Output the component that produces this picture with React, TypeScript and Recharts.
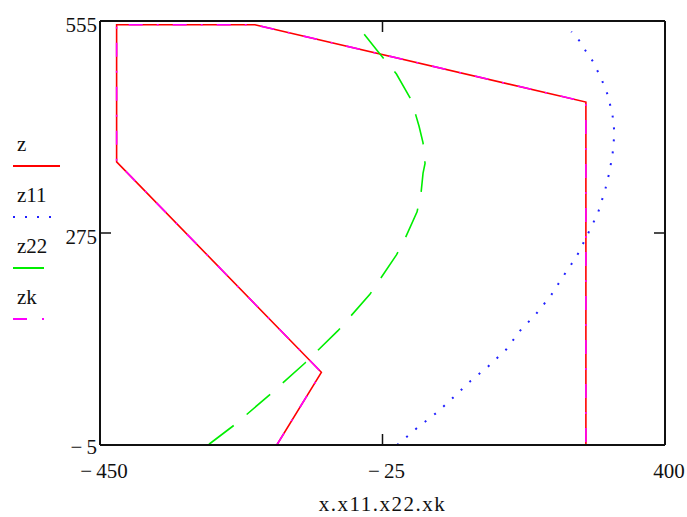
import { Line, LineChart, XAxis, YAxis } from "recharts";

// Mathcad-style X-Y plot: closed section outline plus two curves.
const X_TICKS = [-450, -25, 400];
const Y_TICKS = [-5, 275, 555];
const SERIES_NAMES = ["z", "z11", "z22", "zk"];
const AXIS_TITLE = "x.x11.x22.xk";

// z vs x (outline)
const zX = [-184, -117, -425, -425, -217, 281, 281];
const zY = [-5, 91, 369, 550, 550, 448, -5];

// z11 vs x11
const z11X = [-3, 29, 57, 83, 108, 133, 161, 182, 205, 228, 247, 267, 283, 299, 310, 316, 321, 324, 321, 314, 305, 292, 281, 272, 259];
const z11Y = [-5, 19, 38, 59, 80, 98, 121, 146, 167, 192, 218, 244, 272, 301, 332, 354, 378, 407, 431, 457, 477, 501, 515, 528, 541];

// z22 vs x22
const z22X = [-286, -247, -194, -142, -92, -44, -4, 7, 27, 33, 36, 39, 36, 30, 25, 18, -4, -34, -53];
const z22Y = [-4, 22, 62, 103, 146, 194, 246, 264, 303, 328, 354, 367, 394, 416, 431, 451, 485, 517, 538];

// zk vs xk (same outline as z)
const zkX = [-184, -117, -425, -425, -217, 281, 281];
const zkY = [-5, 91, 369, 550, 550, 448, -5];

const RED = "#ff0000";
const BLUE = "#2020ff";
const GREEN = "#00ee00";
const MAGENTA = "#ff00ff";
const INK = "#111111";
const FONT = '"Liberation Serif", "Times New Roman", serif';

const pairs = (xs: number[], ys: number[]) => xs.map((x, i) => ({ x, y: ys[i] }));

const fmt = (v: number) => (v < 0 ? `\u2212\u2009${-v}` : `${v}`);

function BottomTick({ x, y, payload }: any) {
  return (
    <g>
      <line x1={x} y1={y} x2={x} y2={y - 11} stroke={INK} strokeWidth={1.5} />
      <text x={x + 4} y={y + 33} textAnchor="middle" fontSize={21} fontFamily={FONT} fill={INK}>
        {fmt(payload.value)}
      </text>
    </g>
  );
}

function LeftTick({ x, y, payload }: any) {
  // lowest label sits a little higher so it clears the x tick label below it
  const dy = payload.value === Y_TICKS[0] ? 9 : 11;
  return (
    <g>
      <line x1={x} y1={y} x2={x + 11} y2={y} stroke={INK} strokeWidth={1.5} />
      <text x={x - 3} y={y + dy} textAnchor="end" fontSize={21} fontFamily={FONT} fill={INK}>
        {fmt(payload.value)}
      </text>
    </g>
  );
}

function TopTick({ x, y }: any) {
  return <line x1={x} y1={y} x2={x} y2={y + 11} stroke={INK} strokeWidth={1.5} />;
}

function RightTick({ x, y }: any) {
  return <line x1={x} y1={y} x2={x - 11} y2={y} stroke={INK} strokeWidth={1.5} />;
}

const LEGEND_STYLE = [
  { color: RED, dash: undefined, len: 47 },
  { color: BLUE, dash: "2 10", len: 38 },
  { color: GREEN, dash: undefined, len: 31 },
  { color: MAGENTA, dash: "14 15 2 100", len: 31 },
];

function Legend() {
  return (
    <svg width={80} height={517} style={{ position: "absolute", left: 0, top: 0 }}>
      {SERIES_NAMES.map((name, i) => (
        <g key={name}>
          <text x={17} y={151 + 51 * i} fontSize={21} fontFamily={FONT} fill={INK}>
            {name}
          </text>
          <line
            x1={13}
            x2={13 + LEGEND_STYLE[i].len}
            y1={166 + 51 * i}
            y2={166 + 51 * i}
            stroke={LEGEND_STYLE[i].color}
            strokeWidth={2}
            strokeDasharray={LEGEND_STYLE[i].dash}
          />
        </g>
      ))}
    </svg>
  );
}

export default function App() {
  const axisLine = { stroke: INK, strokeWidth: 2 };
  return (
    <div style={{ position: "absolute", left: 0, top: 0, width: 687, height: 517, background: "#fff" }}>
      <LineChart width={687} height={517} margin={{ top: 0, right: 0, bottom: 0, left: 0 }}>
        <XAxis
          dataKey="x"
          type="number"
          domain={[-450, 400]}
          ticks={X_TICKS}
          interval={0}
          allowDataOverflow
          height={72}
          tickSize={0}
          tickMargin={0}
          tickLine={false}
          axisLine={axisLine}
          tick={BottomTick}
          label={{ value: AXIS_TITLE, position: "insideBottom", offset: 6, fontSize: 21, fontFamily: FONT, fill: INK, letterSpacing: 1.5 }}
        />
        <XAxis
          xAxisId="top"
          orientation="top"
          dataKey="x"
          type="number"
          domain={[-450, 400]}
          ticks={X_TICKS}
          interval={0}
          allowDataOverflow
          height={21}
          tickSize={0}
          tickMargin={0}
          tickLine={false}
          axisLine={axisLine}
          tick={TopTick}
        />
        <YAxis
          dataKey="y"
          type="number"
          domain={[-5, 555]}
          ticks={Y_TICKS}
          interval={0}
          allowDataOverflow
          width={100}
          tickSize={0}
          tickMargin={0}
          tickLine={false}
          axisLine={axisLine}
          tick={LeftTick}
        />
        <YAxis
          yAxisId="right"
          orientation="right"
          dataKey="y"
          type="number"
          domain={[-5, 555]}
          ticks={Y_TICKS}
          interval={0}
          allowDataOverflow
          width={22}
          tickSize={0}
          tickMargin={0}
          tickLine={false}
          axisLine={axisLine}
          tick={RightTick}
        />
        <Line data={pairs(zX, zY)} dataKey="y" type="linear" stroke={RED} strokeWidth={1.6} dot={false} isAnimationActive={false} />
        <Line data={pairs(z11X, z11Y)} dataKey="y" type="linear" stroke={BLUE} strokeWidth={2} strokeDasharray="2 10" dot={false} isAnimationActive={false} />
        <Line data={pairs(z22X, z22Y)} dataKey="y" type="linear" stroke={GREEN} strokeWidth={1.6} strokeDasharray="31 17" dot={false} isAnimationActive={false} />
        <Line data={pairs(zkX, zkY)} dataKey="y" type="linear" stroke={MAGENTA} strokeWidth={1.6} strokeDasharray="14 14 2 14" dot={false} isAnimationActive={false} />
      </LineChart>
      <Legend />
    </div>
  );
}
